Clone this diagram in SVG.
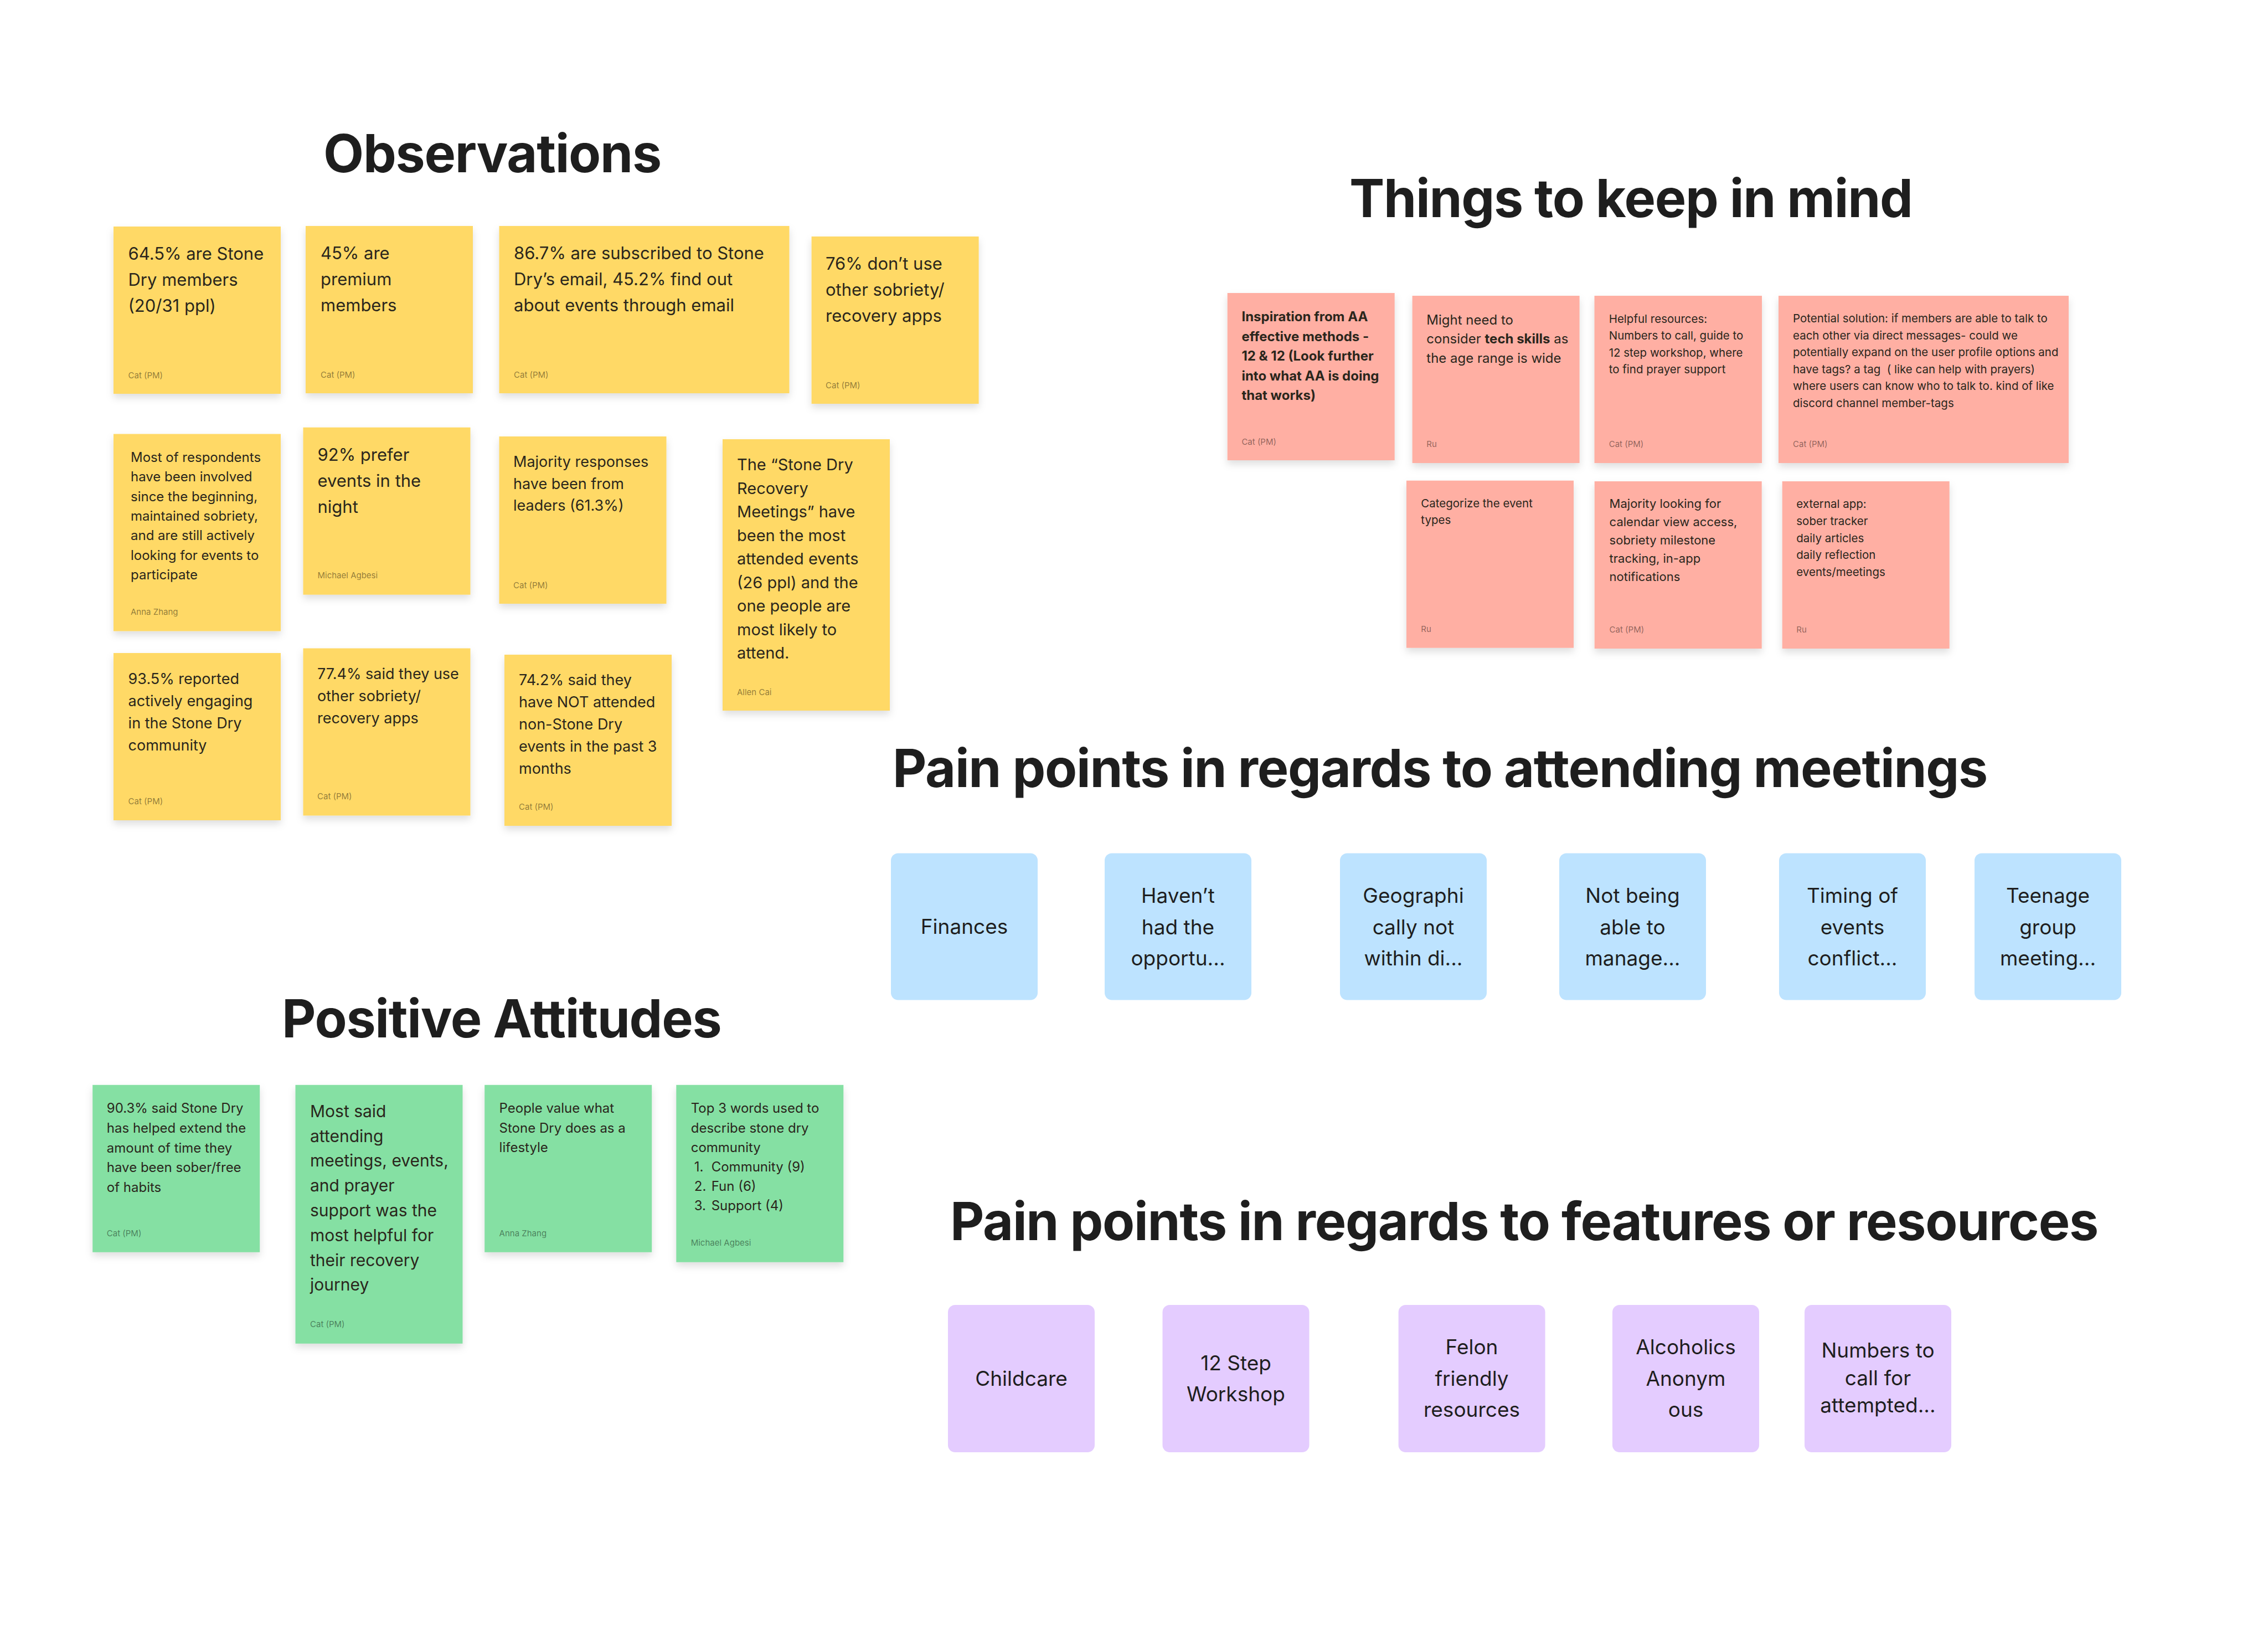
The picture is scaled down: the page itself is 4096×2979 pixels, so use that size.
<svg xmlns="http://www.w3.org/2000/svg" width="4096" height="2979" viewBox="0 0 4096 2979">
<defs>
<style>
text{font-family:Inter,"Noto Sans","Liberation Sans",sans-serif}
.h{font-weight:700;font-size:95px;fill:#1E1E1E;letter-spacing:-1.3px}
.s{fill:#2A261C}
.a{font-size:15px;fill:#000;fill-opacity:.45}
.y{fill:#FFD966}
.p{fill:#FFAFA3}
.g{fill:#85E0A3}
.b{fill:#BDE3FF}
.v{fill:#E4CCFF}
.c{font-size:37px;fill:#1E1E1E;text-anchor:middle}
.st{filter:url(#sh)}
</style>
<filter id="sh" x="-10%" y="-10%" width="120%" height="130%">
<feDropShadow dx="0" dy="7" stdDeviation="7" flood-color="#000" flood-opacity="0.13"/>
</filter>
</defs>
<rect width="4096" height="2979" fill="#FFFFFF"/>

<g id="titles">
<text id="t-obs" class="h" x="584" y="311">Observations</text>
<text id="t-things" class="h" x="2437" y="392">Things to keep in mind</text>
<text id="t-pain1" class="h" x="1612" y="1421">Pain points in regards to attending meetings</text>
<text id="t-pos" class="h" x="509" y="1873">Positive Attitudes</text>
<text id="t-pain2" class="h" x="1716" y="2239">Pain points in regards to features or resources</text>
</g>

<g id="connectors"></g>

<!-- Observations -->
<g id="y1"><rect class="y st" x="205" y="409" width="302" height="302"/>
<text class="s" x="231.5" y="469" font-size="31"><tspan x="231.5">64.5% are Stone</tspan><tspan x="231.5" dy="47">Dry members</tspan><tspan x="231.5" dy="47">(20/31 ppl)</tspan></text>
<text class="a" x="231.5" y="683">Cat (PM)</text></g>

<g id="y2"><rect class="y st" x="552" y="408" width="302" height="302"/>
<text class="s" x="579" y="468" font-size="31"><tspan x="579">45% are</tspan><tspan x="579" dy="47">premium</tspan><tspan x="579" dy="47">members</tspan></text>
<text class="a" x="579" y="682">Cat (PM)</text></g>

<g id="y3"><rect class="y st" x="901.5" y="408" width="524" height="302"/>
<text class="s" x="928" y="468" font-size="31"><tspan x="928">86.7% are subscribed to Stone</tspan><tspan x="928" dy="47">Dry’s email, 45.2% find out</tspan><tspan x="928" dy="47">about events through email</tspan></text>
<text class="a" x="928" y="682">Cat (PM)</text></g>

<g id="y4"><rect class="y st" x="1465.6" y="427" width="302" height="302"/>
<text class="s" x="1491" y="487" font-size="31"><tspan x="1491">76% don’t use</tspan><tspan x="1491" dy="47">other sobriety/</tspan><tspan x="1491" dy="47">recovery apps</tspan></text>
<text class="a" x="1491" y="701">Cat (PM)</text></g>

<g id="y5"><rect class="y st" x="205" y="783.5" width="302" height="356"/>
<text class="s" x="236" y="834" font-size="24"><tspan x="236">Most of respondents</tspan><tspan x="236" dy="35.3">have been involved</tspan><tspan x="236" dy="35.3">since the beginning,</tspan><tspan x="236" dy="35.3">maintained sobriety,</tspan><tspan x="236" dy="35.3">and are still actively</tspan><tspan x="236" dy="35.3">looking for events to</tspan><tspan x="236" dy="35.3">participate</tspan></text>
<text class="a" x="236" y="1110">Anna Zhang</text></g>

<g id="y6"><rect class="y st" x="547.5" y="771.7" width="302" height="302"/>
<text class="s" x="573.5" y="832" font-size="31"><tspan x="573.5">92% prefer</tspan><tspan x="573.5" dy="47">events in the</tspan><tspan x="573.5" dy="47">night</tspan></text>
<text class="a" x="573.5" y="1044">Michael Agbesi</text></g>

<g id="y7"><rect class="y st" x="901.5" y="788" width="302" height="302"/>
<text class="s" x="927" y="843" font-size="27"><tspan x="927">Majority responses</tspan><tspan x="927" dy="39.6">have been from</tspan><tspan x="927" dy="39.6">leaders (61.3%)</tspan></text>
<text class="a" x="927" y="1061.6">Cat (PM)</text></g>

<g id="y8"><rect class="y st" x="1305" y="793" width="302" height="490"/>
<text class="s" x="1331" y="849" font-size="29"><tspan x="1331">The “Stone Dry</tspan><tspan x="1331" dy="42.5">Recovery</tspan><tspan x="1331" dy="42.5">Meetings” have</tspan><tspan x="1331" dy="42.5">been the most</tspan><tspan x="1331" dy="42.5">attended events</tspan><tspan x="1331" dy="42.5">(26 ppl) and the</tspan><tspan x="1331" dy="42.5">one people are</tspan><tspan x="1331" dy="42.5">most likely to</tspan><tspan x="1331" dy="42.5">attend.</tspan></text>
<text class="a" x="1331" y="1254.7">Allen Cai</text></g>

<g id="y9"><rect class="y st" x="205" y="1179" width="302" height="302"/>
<text class="s" x="231.6" y="1235" font-size="27"><tspan x="231.6">93.5% reported</tspan><tspan x="231.6" dy="40">actively engaging</tspan><tspan x="231.6" dy="40">in the Stone Dry</tspan><tspan x="231.6" dy="40">community</tspan></text>
<text class="a" x="231.6" y="1452">Cat (PM)</text></g>

<g id="y10"><rect class="y st" x="547.5" y="1170.5" width="302" height="302"/>
<text class="s" x="573" y="1225.7" font-size="27"><tspan x="573">77.4% said they use</tspan><tspan x="573" dy="40.3">other sobriety/</tspan><tspan x="573" dy="40.3">recovery apps</tspan></text>
<text class="a" x="573" y="1443.4">Cat (PM)</text></g>

<g id="y11"><rect class="y st" x="911" y="1182" width="302" height="309"/>
<text class="s" x="937" y="1237" font-size="27"><tspan x="937">74.2% said they</tspan><tspan x="937" dy="40">have NOT attended</tspan><tspan x="937" dy="40">non-Stone Dry</tspan><tspan x="937" dy="40">events in the past 3</tspan><tspan x="937" dy="40">months</tspan></text>
<text class="a" x="937" y="1461.7">Cat (PM)</text></g>

<!-- Things to keep in mind -->
<g id="p1"><rect class="p st" x="2216.7" y="529" width="302" height="302"/>
<text class="s" x="2242.4" y="580.3" font-size="24" font-weight="700"><tspan x="2242.4">Inspiration from AA</tspan><tspan x="2242.4" dy="35.4">effective methods -</tspan><tspan x="2242.4" dy="35.4">12 &amp; 12 (Look further</tspan><tspan x="2242.4" dy="35.4">into what AA is doing</tspan><tspan x="2242.4" dy="35.4">that works)</tspan></text>
<text class="a" x="2242.4" y="802.5">Cat (PM)</text></g>

<g id="p2"><rect class="p st" x="2550.6" y="534" width="302" height="302"/>
<text class="s" x="2576.3" y="585.6" font-size="24"><tspan x="2576.3">Might need to</tspan><tspan x="2576.3" dy="34.8">consider <tspan font-weight="700">tech skills</tspan> as</tspan><tspan x="2576.3" dy="34.8">the age range is wide</tspan></text>
<text class="a" x="2576.3" y="806.8">Ru</text></g>

<g id="p3"><rect class="p st" x="2879.5" y="534" width="302.5" height="302"/>
<text class="s" x="2905.7" y="582.5" font-size="20.5"><tspan x="2905.7">Helpful resources:</tspan><tspan x="2905.7" dy="30.6">Numbers to call, guide to</tspan><tspan x="2905.7" dy="30.6">12 step workshop, where</tspan><tspan x="2905.7" dy="30.6">to find prayer support</tspan></text>
<text class="a" x="2905.7" y="806.8">Cat (PM)</text></g>

<g id="p4"><rect class="p st" x="3212" y="534" width="524" height="302"/>
<text class="s" x="3238" y="582" font-size="20.5"><tspan x="3238">Potential solution: if members are able to talk to</tspan><tspan x="3238" dy="30.5">each other via direct messages- could we</tspan><tspan x="3238" dy="30.5">potentially expand on the user profile options and</tspan><tspan x="3238" dy="30.5" xml:space="preserve">have tags? a tag  ( like can help with prayers)</tspan><tspan x="3238" dy="30.5">where users can know who to talk to. kind of like</tspan><tspan x="3238" dy="30.5">discord channel member-tags</tspan></text>
<text class="a" x="3238" y="806.8">Cat (PM)</text></g>

<g id="p5"><rect class="p st" x="2540" y="867.7" width="302" height="302"/>
<text class="s" x="2566.3" y="915.8" font-size="20.5"><tspan x="2566.3">Categorize the event</tspan><tspan x="2566.3" dy="30.5">types</tspan></text>
<text class="a" x="2566.3" y="1140.8">Ru</text></g>

<g id="p6"><rect class="p st" x="2879.7" y="869" width="302" height="302"/>
<text class="s" x="2906.6" y="916.7" font-size="22"><tspan x="2906.6">Majority looking for</tspan><tspan x="2906.6" dy="33">calendar view access,</tspan><tspan x="2906.6" dy="33">sobriety milestone</tspan><tspan x="2906.6" dy="33">tracking, in-app</tspan><tspan x="2906.6" dy="33">notifications</tspan></text>
<text class="a" x="2906.6" y="1141.7">Cat (PM)</text></g>

<g id="p7"><rect class="p st" x="3218.7" y="869" width="302" height="302"/>
<text class="s" x="3244.3" y="916.7" font-size="20.5"><tspan x="3244.3">external app:</tspan><tspan x="3244.3" dy="30.9">sober tracker</tspan><tspan x="3244.3" dy="30.9">daily articles</tspan><tspan x="3244.3" dy="30.9">daily reflection</tspan><tspan x="3244.3" dy="30.9">events/meetings</tspan></text>
<text class="a" x="3244.3" y="1141.7">Ru</text></g>

<!-- Positive Attitudes -->
<g id="g1"><rect class="g st" x="167.2" y="1958.8" width="302" height="302"/>
<text class="s" x="192.8" y="2009.4" font-size="24"><tspan x="192.8">90.3% said Stone Dry</tspan><tspan x="192.8" dy="35.6">has helped extend the</tspan><tspan x="192.8" dy="35.6">amount of time they</tspan><tspan x="192.8" dy="35.6">have been sober/free</tspan><tspan x="192.8" dy="35.6">of habits</tspan></text>
<text class="a" x="192.8" y="2231.6">Cat (PM)</text></g>

<g id="g2"><rect class="g st" x="533.5" y="1958.8" width="302" height="467"/>
<text class="s" x="560" y="2016.7" font-size="30"><tspan x="560">Most said</tspan><tspan x="560" dy="44.8">attending</tspan><tspan x="560" dy="44.8">meetings, events,</tspan><tspan x="560" dy="44.8">and prayer</tspan><tspan x="560" dy="44.8">support was the</tspan><tspan x="560" dy="44.8">most helpful for</tspan><tspan x="560" dy="44.8">their recovery</tspan><tspan x="560" dy="44.8">journey</tspan></text>
<text class="a" x="560" y="2396.3">Cat (PM)</text></g>

<g id="g3"><rect class="g st" x="875.2" y="1958.8" width="302" height="302"/>
<text class="s" x="901.6" y="2009.4" font-size="24"><tspan x="901.6">People value what</tspan><tspan x="901.6" dy="35.2">Stone Dry does as a</tspan><tspan x="901.6" dy="35.2">lifestyle</tspan></text>
<text class="a" x="901.6" y="2231.6">Anna Zhang</text></g>

<g id="g4"><rect class="g st" x="1221.3" y="1958.8" width="302" height="320"/>
<text class="s" x="1247.7" y="2009.4" font-size="24"><tspan x="1247.7">Top 3 words used to</tspan><tspan x="1247.7" dy="35.2">describe stone dry</tspan><tspan x="1247.7" dy="35.2">community</tspan><tspan x="1253.8" dy="35.2">1.</tspan><tspan x="1284.7">Community (9)</tspan><tspan x="1253.8" dy="35.2">2.</tspan><tspan x="1284.7">Fun (6)</tspan><tspan x="1253.8" dy="35.2">3.</tspan><tspan x="1284.7">Support (4)</tspan></text>
<text class="a" x="1247.7" y="2249">Michael Agbesi</text></g>

<!-- Pain points: attending meetings -->
<g id="b1"><rect class="b" x="1609" y="1540.5" width="265" height="265" rx="13"/>
<text class="c" x="1741.5" y="1686.4">Finances</text></g>
<g id="b2"><rect class="b" x="1995" y="1540.5" width="265" height="265" rx="13"/>
<text class="c" x="2127.5" y="1630"><tspan x="2127.5">Haven’t</tspan><tspan x="2127.5" dy="56.5">had the</tspan><tspan x="2127.5" dy="56.5">opportu...</tspan></text></g>
<g id="b3"><rect class="b" x="2420" y="1540.5" width="265" height="265" rx="13"/>
<text class="c" x="2552.5" y="1630"><tspan x="2552.5">Geographi</tspan><tspan x="2552.5" dy="56.5">cally not</tspan><tspan x="2552.5" dy="56.5">within di...</tspan></text></g>
<g id="b4"><rect class="b" x="2816" y="1540.5" width="265" height="265" rx="13"/>
<text class="c" x="2948.5" y="1630"><tspan x="2948.5">Not being</tspan><tspan x="2948.5" dy="56.5">able to</tspan><tspan x="2948.5" dy="56.5">manage...</tspan></text></g>
<g id="b5"><rect class="b" x="3213" y="1540.5" width="265" height="265" rx="13"/>
<text class="c" x="3345.5" y="1630"><tspan x="3345.5">Timing of</tspan><tspan x="3345.5" dy="56.5">events</tspan><tspan x="3345.5" dy="56.5">conflict...</tspan></text></g>
<g id="b6"><rect class="b" x="3566" y="1540.5" width="265" height="265" rx="13"/>
<text class="c" x="3698.5" y="1630"><tspan x="3698.5">Teenage</tspan><tspan x="3698.5" dy="56.5">group</tspan><tspan x="3698.5" dy="56.5">meeting...</tspan></text></g>

<!-- Pain points: features or resources -->
<g id="v1"><rect class="v" x="1712" y="2356" width="265" height="266" rx="13"/>
<text class="c" x="1844.5" y="2501.6">Childcare</text></g>
<g id="v2"><rect class="v" x="2099.5" y="2356" width="265" height="266" rx="13"/>
<text class="c" x="2232" y="2473.5"><tspan x="2232">12 Step</tspan><tspan x="2232" dy="56.5">Workshop</tspan></text></g>
<g id="v3"><rect class="v" x="2525.6" y="2356" width="265" height="266" rx="13"/>
<text class="c" x="2658" y="2444.8"><tspan x="2658">Felon</tspan><tspan x="2658" dy="56.8">friendly</tspan><tspan x="2658" dy="56.8">resources</tspan></text></g>
<g id="v4"><rect class="v" x="2912" y="2356" width="265" height="266" rx="13"/>
<text class="c" x="3044.5" y="2444.8"><tspan x="3044.5">Alcoholics</tspan><tspan x="3044.5" dy="56.8">Anonym</tspan><tspan x="3044.5" dy="56.8">ous</tspan></text></g>
<g id="v5"><rect class="v" x="3259" y="2356" width="265" height="266" rx="13"/>
<text class="c" x="3391.5" y="2450.9" font-size="32.5"><tspan x="3391.5">Numbers to</tspan><tspan x="3391.5" dy="49.7">call for</tspan><tspan x="3391.5" dy="49.7">attempted...</tspan></text></g>
</svg>
